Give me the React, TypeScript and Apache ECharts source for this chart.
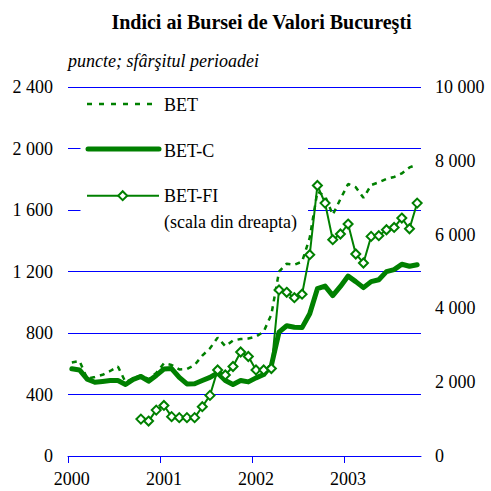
import React, { useEffect, useRef } from "react";
import * as echarts from "echarts";

// Month categories: Jan 2000 .. Oct 2003 (46 months)
const years = ["2000", "2001", "2002", "2003"];
const monthCount = 46;

// BET (left scale), points
const bet = [
  608, 618, 504, 514, 528, 553, 582, 480, 505, 525, 500, 540,
  603, 592, 563, 566, 592, 653, 700, 770, 714, 751, 761, 764,
  777, 809, 920, 1199, 1251, 1244, 1264, 1420, 1720, 1690, 1569, 1671,
  1769, 1748, 1679, 1762, 1780, 1802, 1815, 1838, 1877, 1896,
];

// BET-C (left scale), points
const betC = [
  567, 560, 500, 480, 485, 491, 491, 465, 498, 517, 487, 524,
  566, 569, 511, 469, 470, 491, 511, 540, 491, 465, 491, 482,
  508, 530, 589, 806, 847, 837, 835, 925, 1088, 1105, 1043, 1103,
  1170, 1134, 1095, 1134, 1146, 1199, 1212, 1247, 1234, 1244,
];

// BET-FI (right scale), points; starts in Oct 2000
const betFI: (number | null)[] = [
  null, null, null, null, null, null, null, null, null, 1000, 947, 1244,
  1370, 1066, 1039, 1039, 1039, 1336, 1642, 2330, 2196, 2426, 2818, 2697,
  2332, 2332, 2372, 4500, 4436, 4290, 4385, 5456, 7331, 6854, 5862, 6016,
  6286, 5475, 5231, 5951, 5970, 6132, 6194, 6448, 6159, 6854,
];

const GREEN = "#008000";
const BLUE = "#0000ff";
const FONT = "Liberation Serif, serif";

const fmt = (v: number) =>
  String(v).replace(/\B(?=(\d{3})+(?!\d))/g, " ");

export default function App() {
  const ref = useRef<HTMLDivElement>(null);

  useEffect(() => {
    if (!ref.current) return;
    const chart = echarts.init(ref.current, undefined, { renderer: "svg" });

    const toPts = (arr: (number | null)[]) =>
      arr
        .map((v, i) => (v == null ? null : [i + 0.5, v]))
        .filter((p) => p !== null);

    const axisText = { fontFamily: FONT, fontSize: 18, color: "#000" };

    const txt = (text: string, x: number, y: number, extra: any = {}) => ({
      type: "text",
      x,
      y,
      z: 10,
      style: {
        text,
        fontFamily: FONT,
        fontSize: 18,
        fill: "#000",
        align: "left",
        verticalAlign: "middle",
        textAlign: "left",
        textVerticalAlign: "middle",
        ...extra,
      },
    });

    const option: any = {
      animation: false,
      textStyle: { fontFamily: FONT },
      grid: { left: 68, right: 70, top: 87, bottom: 35 },
      xAxis: {
        type: "value",
        min: 0,
        max: monthCount,
        interval: 12,
        axisLine: { show: true, lineStyle: { color: BLUE, width: 1 } },
        axisTick: {
          show: true,
          length: 7,
          customValues: [0, 12, 24, 36],
          lineStyle: { color: BLUE, width: 1 },
        },
        axisLabel: {
          ...axisText,
          margin: 14,
          customValues: [0.5, 12.5, 24.5, 36.5],
          formatter: (v: number) => {
            const k = (v - 0.5) / 12;
            return Number.isInteger(k) && years[k] ? years[k] : "";
          },
        },
        splitLine: { show: false },
      },
      yAxis: [
        {
          type: "value",
          min: 0,
          max: 2400,
          interval: 400,
          position: "left",
          axisLine: { show: false },
          axisTick: { show: false },
          splitLine: { show: true, lineStyle: { color: BLUE, width: 1 } },
          axisLabel: { ...axisText, margin: 15, formatter: fmt },
        },
        {
          type: "value",
          min: 0,
          max: 10000,
          interval: 2000,
          position: "right",
          axisLine: { show: false },
          axisTick: { show: false },
          splitLine: { show: false },
          axisLabel: { ...axisText, margin: 14, formatter: fmt },
        },
      ],
      series: [
        {
          name: "BET",
          type: "line",
          data: toPts(bet),
          showSymbol: false,
          symbol: "none",
          lineStyle: { color: GREEN, width: 2.5, type: [5, 5] },
          z: 2,
        },
        {
          name: "BET-C",
          type: "line",
          data: toPts(betC),
          showSymbol: false,
          symbol: "none",
          lineStyle: { color: GREEN, width: 5, join: "round", cap: "round" },
          z: 3,
        },
        {
          name: "BET-FI",
          type: "line",
          yAxisIndex: 1,
          data: toPts(betFI),
          symbol: "diamond",
          symbolSize: 9,
          showAllSymbol: true,
          lineStyle: { color: GREEN, width: 2 },
          itemStyle: { color: "#fff", borderColor: GREEN, borderWidth: 2 },
          z: 4,
        },
      ],
      graphic: [
        txt("Indici ai Bursei de Valori Bucureşti", 261.5, 22, {
          fontSize: 20,
          fontWeight: "bold",
          align: "center",
          textAlign: "center",
        }),
        txt("puncte; sfârşitul perioadei", 68, 61, { fontStyle: "italic" }),
        {
          type: "rect",
          z: 5,
          shape: { x: 80.5, y: 92, width: 227.5, height: 142 },
          style: { fill: "#fff" },
        },
        {
          type: "line",
          z: 6,
          shape: { x1: 87, y1: 104, x2: 159, y2: 104 },
          style: { stroke: GREEN, lineWidth: 2.5, lineDash: [5, 7] },
        },
        {
          type: "line",
          z: 6,
          shape: { x1: 88, y1: 149, x2: 159, y2: 149 },
          style: { stroke: GREEN, lineWidth: 5, lineCap: "round" },
        },
        {
          type: "line",
          z: 6,
          shape: { x1: 87, y1: 195.7, x2: 159, y2: 195.7 },
          style: { stroke: GREEN, lineWidth: 2 },
        },
        {
          type: "polygon",
          z: 7,
          shape: {
            points: [
              [122.7, 191.2],
              [127.2, 195.7],
              [122.7, 200.2],
              [118.2, 195.7],
            ],
          },
          style: { fill: "#fff", stroke: GREEN, lineWidth: 2 },
        },
        txt("BET", 164, 105),
        txt("BET-C", 164, 151),
        txt("BET-FI", 164, 196),
        txt("(scala din dreapta)", 164, 222),
      ],
    };

    chart.setOption(option);
    return () => chart.dispose();
  }, []);

  return (
    <div
      ref={ref}
      style={{ position: "fixed", left: 0, top: 0, width: 491, height: 491, background: "#fff" }}
    />
  );
}
